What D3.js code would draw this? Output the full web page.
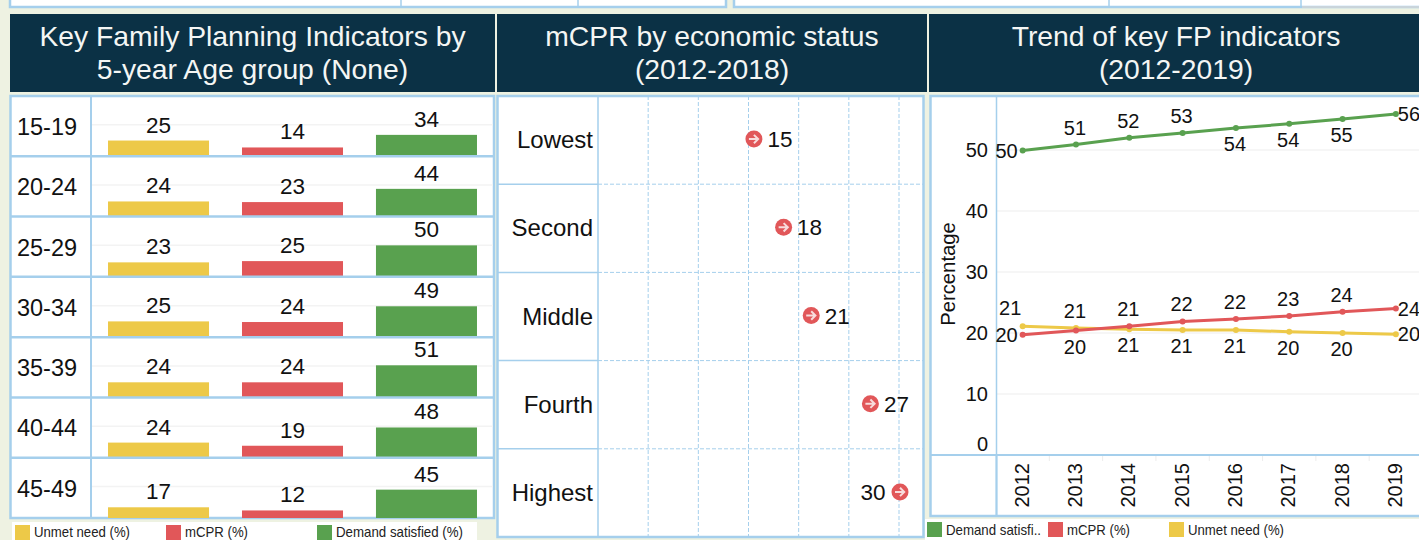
<!DOCTYPE html>
<html>
<head>
<meta charset="utf-8">
<script src="https://cdn.jsdelivr.net/npm/d3@7"></script>
<style>
html, body { margin: 0; padding: 0; background: #eef2e2; overflow: hidden; }
svg { display: block; font-family: "Liberation Sans", Arial, sans-serif; }
.domain { display: none; }
</style>
</head>
<body>
<svg id="dash" width="1419" height="540"></svg>
<script>
// Age group panel
const ageGroups = ["15-19", "20-24", "25-29", "30-34", "35-39", "40-44", "45-49"];
const ageIndicators = ["Unmet need (%)", "mCPR (%)", "Demand satisfied (%)"];
const ageUnmet = [25, 24, 23, 25, 24, 24, 17];
const ageMcpr = [14, 23, 25, 24, 24, 19, 12];
const ageDemand = [34, 44, 50, 49, 51, 48, 45];

// Economic status panel
const wealthGroups = ["Lowest", "Second", "Middle", "Fourth", "Highest"];
const wealthMcpr = [15.49, 18.45, 21.2, 27.1, 30.05];

// Trend panel
const years = [2012, 2013, 2014, 2015, 2016, 2017, 2018, 2019];
const trendDemand = [49.9, 50.9, 52, 52.8, 53.6, 54.3, 55.1, 55.9];
const trendMcpr = [19.7, 20.4, 21.1, 21.9, 22.3, 22.8, 23.5, 24];
const trendUnmet = [21.1, 20.8, 20.6, 20.5, 20.5, 20.2, 20, 19.8];
const trendTicks = [0, 10, 20, 30, 40, 50];

const yellow = "#edc948", red = "#e15759", green = "#59a14f";
const navy = "#0b3145", border = "#a5cfec", gridGrey = "#f3f3f3";

const svg = d3.select("#dash");

function box(g, x, y, w, h, sw) {
    g.append("rect").attr("x", x).attr("y", y).attr("width", w).attr("height", h)
        .attr("fill", "#fff").attr("stroke", border).attr("stroke-width", sw || 2.5);
}
function rule(g, x1, y1, x2, y2, color, sw, dash) {
    g.append("line").attr("x1", x1).attr("y1", y1).attr("x2", x2).attr("y2", y2)
        .attr("stroke", color).attr("stroke-width", sw)
        .attr("stroke-dasharray", dash || null);
}
function header(x, w, lines) {
    svg.append("rect").attr("x", x).attr("y", 14).attr("width", w).attr("height", 78).attr("fill", navy);
    lines.forEach((t, i) => {
        svg.append("text").attr("x", x + w / 2).attr("y", 46 + i * 33)
            .attr("text-anchor", "middle").attr("fill", "#f4f6f4")
            .style("font-size", "28.3px").text(t);
    });
}
function legendItem(x, y, color, label, len, textY) {
    svg.append("rect").attr("x", x).attr("y", y).attr("width", 15).attr("height", 15).attr("fill", color);
    svg.append("text").attr("x", x + 19).attr("y", textY).attr("fill", "#222")
        .attr("textLength", len).attr("lengthAdjust", "spacingAndGlyphs")
        .style("font-size", "14.5px").text(label);
}

// Strip of the panels cut off at the top of the page
const strip = svg.append("g");
box(strip, 10, -6, 716, 13);
rule(strip, 401, 0, 401, 8, border, 1.5);
rule(strip, 578, 0, 578, 8, border, 1.5);
box(strip, 734, -6, 720, 13);
rule(strip, 1109, 0, 1109, 8, border, 1.5);
rule(strip, 1301, 0, 1301, 8, border, 1.5);
rule(strip, 1302, 7, 1419, 7, "#d6d6d6", 1.5);

// ---- Left panel: bars by age group ----
header(10, 485, ["Key Family Planning Indicators by", "5-year Age group (None)"]);
const ageTop = 96, ageBottom = 518;
const left = svg.append("g");
box(left, 10.5, ageTop, 483.5, ageBottom - ageTop);

const ageRow = d3.scaleBand().domain(ageGroups).range([ageTop, ageBottom]);
const ageColumn = d3.scaleBand().domain(ageIndicators).range([91, 494]).paddingInner(0.246).paddingOuter(0.127);
const ageHeight = d3.scaleLinear().domain([0, 50]).range([0, 31.5]);
const ageSeries = [ageUnmet, ageMcpr, ageDemand];
const ageColors = [yellow, red, green];

ageGroups.forEach((age, r) => {
    const base = ageRow(age) + ageRow.bandwidth();
    rule(left, 92, base - ageHeight(50), 493, base - ageHeight(50), gridGrey, 1.5);
    ageIndicators.forEach((name, c) => {
        const v = ageSeries[c][r];
        left.append("rect")
            .attr("x", ageColumn(name)).attr("y", base - ageHeight(v))
            .attr("width", ageColumn.bandwidth()).attr("height", ageHeight(v))
            .attr("fill", ageColors[c]);
        left.append("text")
            .attr("x", ageColumn(name) + ageColumn.bandwidth() / 2).attr("y", base - ageHeight(v) - 8)
            .attr("text-anchor", "middle").attr("fill", "#111")
            .style("font-size", "22.5px").text(v);
    });
    left.append("text").attr("x", 47).attr("y", ageRow(age) + 39)
        .attr("text-anchor", "middle").attr("fill", "#111")
        .style("font-size", "23.5px").text(age);
    if (r > 0) rule(left, 10, ageRow(age), 494, ageRow(age), border, 2.5);
});
rule(left, 91, ageTop, 91, ageBottom, border, 2);

svg.append("rect").attr("x", 12).attr("y", 522).attr("width", 465).attr("height", 18).attr("fill", "#fff");
legendItem(15, 525, yellow, "Unmet need (%)", 96, 536.5);
legendItem(166, 525, red, "mCPR (%)", 63, 536.5);
legendItem(317, 525, green, "Demand satisfied (%)", 127, 536.5);

// ---- Middle panel: mCPR by economic status ----
header(497, 430, ["mCPR by economic status", "(2012-2018)"]);
const midTop = 96, midBottom = 537;
const mid = svg.append("g");
box(mid, 497.5, midTop, 426, midBottom - midTop);

const wealthRow = d3.scaleBand().domain(wealthGroups).range([midTop, midBottom]);
const wealthX = d3.scaleLinear().domain([0, 30]).range([598, 899]);

mid.append("g").selectAll("line").data([5, 10, 15, 20, 25, 30]).enter().append("line")
    .attr("x1", d => wealthX(d)).attr("x2", d => wealthX(d))
    .attr("y1", midTop).attr("y2", midBottom)
    .attr("stroke", border).attr("stroke-width", 1).attr("stroke-dasharray", "4,2");

wealthGroups.forEach((name, i) => {
    const cy = wealthRow(name) + wealthRow.bandwidth() / 2;
    if (i > 0) {
        rule(mid, 497, wealthRow(name), 598, wealthRow(name), border, 1.5);
        rule(mid, 598, wealthRow(name), 923, wealthRow(name), border, 1, "4,2");
    }
    mid.append("text").attr("x", 593).attr("y", cy + 8).attr("text-anchor", "end")
        .attr("fill", "#111").style("font-size", "24px").text(name);

    const v = wealthMcpr[i], px = wealthX(v);
    mid.append("circle").attr("cx", px + 0.5).attr("cy", cy - 1).attr("r", 8.5).attr("fill", red);
    mid.append("path")
        .attr("transform", `translate(${px + 0.5},${cy - 1})`)
        .attr("d", "M-5,0H3.5M0,-4.2L4.2,0L0,4.2")
        .attr("fill", "none").attr("stroke", "#f8dcdc").attr("stroke-width", 2);
    // last label sits on the left of the marker, no room on the right
    const onLeft = i === wealthGroups.length - 1;
    mid.append("text").attr("x", onLeft ? px - 14 : px + 14).attr("y", cy + 7)
        .attr("text-anchor", onLeft ? "end" : "start").attr("fill", "#111")
        .style("font-size", "22.5px").text(Math.round(v));
});
rule(mid, 598, midTop, 598, midBottom, border, 1.5);

// ---- Right panel: trend lines ----
header(929, 494, ["Trend of key FP indicators", "(2012-2019)"]);
const trendTop = 96, trendBottom = 516;
const right = svg.append("g");
box(right, 930.5, trendTop, 520, trendBottom - trendTop);

const trendX = d3.scaleBand().domain(years).range([996, 1422.5]);
const trendY = d3.scaleLinear().domain([0, 50]).range([455, 150]);
const trendCenter = y => trendX(y) + trendX.bandwidth() / 2;

right.append("g").selectAll("line").data(trendTicks.filter(d => d > 0)).enter().append("line")
    .attr("x1", 997).attr("x2", 1419)
    .attr("y1", d => trendY(d)).attr("y2", d => trendY(d))
    .attr("stroke", gridGrey).attr("stroke-width", 1.5);

rule(right, 996.5, trendTop, 996.5, trendBottom, border, 1.5);
rule(right, 930, 455, 1419, 455, border, 2);
rule(right, 996.5, 455, 996.5, trendBottom, border, 2);

const yAxis = right.append("g").attr("transform", "translate(996,0)")
    .call(d3.axisLeft(trendY).tickValues(trendTicks).tickSize(0).tickPadding(8));
yAxis.selectAll("text").attr("fill", "#111").style("font-size", "20px")
    .style("font-family", "'Liberation Sans', Arial, sans-serif")
    .attr("dy", d => d === 0 ? "-0.25em" : "0.3em");

const xAxis = right.append("g").attr("transform", "translate(0,455)")
    .call(d3.axisBottom(trendX).tickSize(0));
xAxis.selectAll("text")
    .attr("transform", "rotate(-90)")
    .attr("x", -8).attr("y", -1).attr("dy", "0.36em")
    .style("text-anchor", "end").attr("fill", "#111").style("font-size", "20px")
    .style("font-family", "'Liberation Sans', Arial, sans-serif");

trendX.domain().forEach(y => {
    rule(right, trendX(y) + trendX.bandwidth(), 456, trendX(y) + trendX.bandwidth(), 461, "#ececec", 1);
});

right.append("text").attr("transform", "translate(955,274) rotate(-90)")
    .attr("text-anchor", "middle").attr("fill", "#111")
    .style("font-size", "20.3px").text("Percentage");

// u = above, d = below, l = left of the point, r = right of the point, a = above and left
const demandPlace = ["l", "u", "u", "u", "d", "d", "d", "r"];
const mcprPlace = ["l", "d", "u", "u", "u", "u", "u", "r"];
const unmetPlace = ["a", "u", "d", "d", "d", "d", "d", "r"];
const trendSeries = [
    { values: trendDemand, color: green, place: demandPlace },
    { values: trendUnmet, color: yellow, place: unmetPlace },
    { values: trendMcpr, color: red, place: mcprPlace }
];
const trendLine = d3.line().x((d, i) => trendCenter(years[i])).y(d => trendY(d));

trendSeries.forEach(s => {
    right.append("path").attr("d", trendLine(s.values)).attr("fill", "none")
        .attr("stroke", s.color).attr("stroke-width", 3);
    right.append("g").selectAll("circle").data(s.values).enter().append("circle")
        .attr("cx", (d, i) => trendCenter(years[i])).attr("cy", d => trendY(d))
        .attr("r", 3).attr("fill", s.color);
});
trendSeries.forEach(s => {
    s.values.forEach((v, i) => {
        const p = s.place[i], px = trendCenter(years[i]), py = trendY(v);
        const dx = { l: -5, r: 2, u: -1, d: -1, a: -12.5 }[p];
        const dy = { l: 0, r: 0, u: -17, d: 16, a: -18 }[p];
        right.append("text")
            .attr("x", px + dx)
            .attr("y", py + dy + 7)
            .attr("text-anchor", p === "l" ? "end" : p === "r" ? "start" : "middle")
            .attr("fill", "#111").style("font-size", "20px").text(Math.round(v));
    });
});

svg.append("rect").attr("x", 925).attr("y", 519).attr("width", 494).attr("height", 21).attr("fill", "#fff");
legendItem(927, 522, green, "Demand satisfi..", 95, 535);
legendItem(1048, 522, red, "mCPR (%)", 63, 535);
legendItem(1169, 522, yellow, "Unmet need (%)", 96, 535);
</script>
</body>
</html>
